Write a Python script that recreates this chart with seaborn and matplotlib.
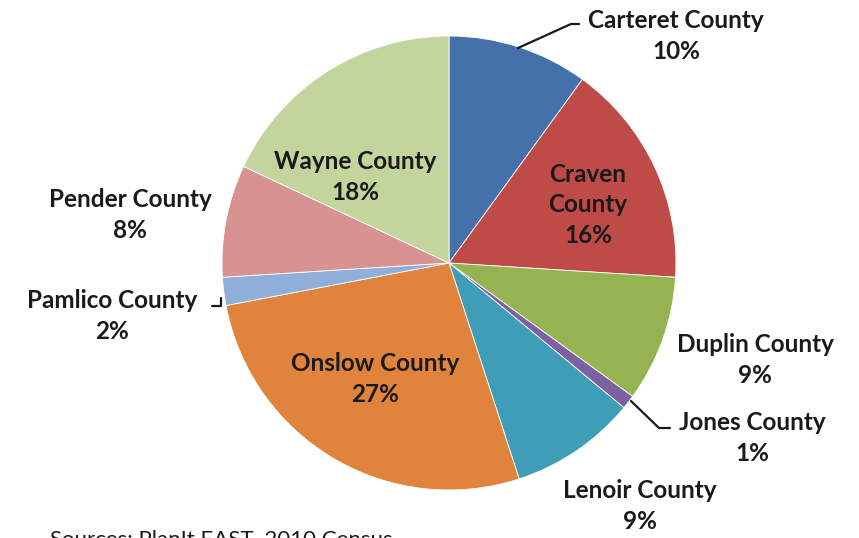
import matplotlib
matplotlib.use("Agg")
import matplotlib.pyplot as plt
import seaborn as sns

counties = ["Carteret County", "Craven County", "Duplin County", "Jones County",
            "Lenoir County", "Onslow County", "Pamlico County", "Pender County",
            "Wayne County"]
shares = [10, 16, 9, 1, 9, 27, 2, 8, 18]
colors = ["#4571AB", "#BE4B48", "#95B451", "#7D60A0", "#409DB8",
          "#E0843D", "#8FAEDA", "#D69391", "#C2D59C"]
label_text = ["Carteret County\n10%", "Craven\nCounty\n16%", "Duplin County\n9%",
              "Jones County\n1%", "Lenoir County\n9%", "Onslow County\n27%",
              "Pamlico County\n2%", "Pender County\n8%", "Wayne County\n18%"]
source = "Sources: PlanIt EAST, 2010 Census"

sns.set_theme(style="white")
plt.rcParams["font.family"] = ["Lato", "DejaVu Sans"]

W, H = 859, 538
fig = plt.figure(figsize=(W / 100, H / 100), dpi=100)
ax = fig.add_axes([0, 0, 1, 1])
ax.set_xlim(0, W)
ax.set_ylim(0, H)
ax.set_aspect("equal")
ax.axis("off")

def Y(py):
    return H - py

cx, cy, r = 449, 263, 227
ax.pie(shares, colors=colors, startangle=90, counterclock=False,
       center=(cx, Y(cy)), radius=r, frame=True,
       wedgeprops=dict(edgecolor="white", linewidth=0.6))
ax.set_xlim(0, W)
ax.set_ylim(0, H)
ax.axis("off")

# label centers in pixel coords (layout)
pos = [(676, 36), (588, 205), (755, 360), (752, 438), (640, 506),
       (375, 379), (112, 316), (130, 215), (355, 177)]
for txt, (px, py) in zip(label_text, pos):
    ax.text(px, Y(py), txt, ha="center", va="center", fontsize=17.5,
            fontweight="bold", color="#1a1a1a", linespacing=1.4)

# leader lines
lc = "#1a1a1a"
ax.plot([518, 571, 579], [Y(48), Y(24), Y(24)], color=lc, lw=1.6)
ax.plot([631, 659, 670], [Y(401), Y(428), Y(428)], color=lc, lw=1.6)
ax.plot([221, 221, 212], [Y(298), Y(306), Y(306)], color=lc, lw=1.6)

ax.text(50, Y(529), source, ha="left", va="top", fontsize=16, color="#1a1a1a")

fig.savefig("out.png", dpi=100)
